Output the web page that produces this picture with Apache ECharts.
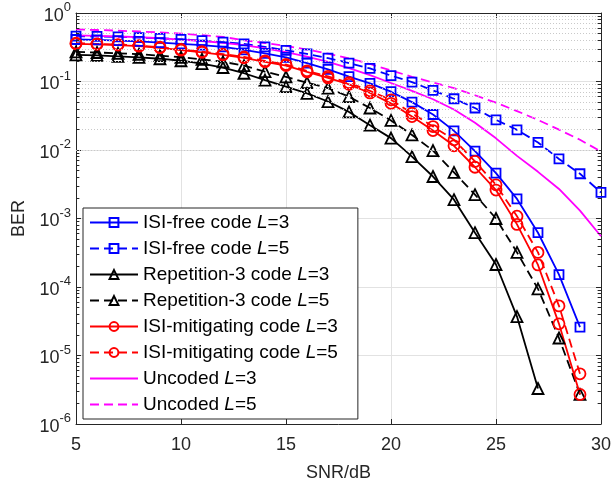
<!DOCTYPE html>
<html><head><meta charset="utf-8">
<script src="https://cdn.jsdelivr.net/npm/echarts@6/dist/echarts.min.js"></script>
<style>html,body{margin:0;padding:0;background:#fff}#c{width:614px;height:487px}</style>
</head><body><div id="c"></div>
<script>
// ---- data ----
const snr = [5,6,7,8,9,10,11,12,13,14,15,16,17,18,19,20,21,22,23,24,25,26,27,28,29,30];
const xTicks = [5,10,15,20,25,30];
const yTickExponents = [-6,-5,-4,-3,-2,-1,0];
const minorMantissas = [2,3,4,5,6,7,8,9];

const isiFreeL3 = [0.41,0.405,0.395,0.385,0.37,0.355,0.34,0.32,0.29,0.257,0.225,0.186,0.150,0.118,0.094,0.071,0.050,0.033,0.019,0.0096,0.0046,0.00193,6.2e-4,1.52e-4,2.6e-5];
const isiFreeL5 = [0.46,0.455,0.447,0.438,0.427,0.413,0.395,0.375,0.355,0.32,0.285,0.253,0.22,0.186,0.155,0.122,0.098,0.074,0.056,0.041,0.0275,0.0197,0.0129,0.0074,0.0045,0.0024];
const rep3L3 = [0.245,0.24,0.233,0.225,0.215,0.201,0.182,0.16,0.132,0.105,0.084,0.067,0.051,0.036,0.023,0.0149,0.0080,0.0041,0.00188,6.2e-4,2.13e-4,3.7e-5,3.3e-6];
const rep3L5 = [0.27,0.265,0.258,0.25,0.238,0.226,0.211,0.194,0.17,0.139,0.117,0.096,0.080,0.060,0.041,0.027,0.0166,0.0098,0.0047,0.00223,1.0e-3,3.2e-4,9.4e-5,1.8e-5,2.7e-6];
const isiMitL3 = [0.355,0.349,0.34,0.328,0.31,0.287,0.267,0.245,0.222,0.194,0.171,0.138,0.113,0.091,0.068,0.048,0.0308,0.0192,0.0115,0.0056,0.0026,8.2e-4,2.1e-4,2.9e-5,2.7e-6];
const isiMitL5 = [0.362,0.355,0.346,0.334,0.316,0.293,0.273,0.251,0.228,0.2,0.177,0.143,0.119,0.096,0.073,0.054,0.0344,0.022,0.0141,0.0068,0.0031,1.08e-3,3.2e-4,5.3e-5,5.4e-6];
const uncodedL3 = [0.47,0.463,0.454,0.443,0.428,0.41,0.39,0.367,0.34,0.305,0.268,0.23,0.193,0.157,0.124,0.095,0.073,0.055,0.039,0.025,0.0148,0.0082,0.0048,0.0027,0.0013,5.5e-4];
const uncodedL5 = [0.575,0.565,0.552,0.537,0.52,0.5,0.475,0.447,0.40,0.365,0.33,0.293,0.255,0.218,0.18,0.145,0.117,0.097,0.080,0.063,0.049,0.037,0.0275,0.0198,0.0141,0.0095];

// ---- helpers ----
const FONT = '"Liberation Sans", Arial, Helvetica, sans-serif';
const TXT = '#262626';
const pairs = v => v.map((y, i) => [snr[i], y]);
const DASH = [9, 5];

function mkSeries(name, vals, color, dashed, symbol, size) {
  return {
    name, type: 'line', data: pairs(vals),
    symbol: symbol || 'none', symbolSize: size || 0, showAllSymbol: true,
    lineStyle: {color, width: 1.8, type: dashed ? DASH : 'solid'},
    itemStyle: {color: 'rgba(255,255,255,0)', borderColor: color, borderWidth: 1.8},
    emphasis: {disabled: true}, animation: false, z: 3
  };
}

const minorVals = [];
yTickExponents.slice(0, -1).forEach(e => minorMantissas.forEach(m => minorVals.push(m * Math.pow(10, e))));

const minorGrid = minorVals.map(v => ({yAxis: v}));
const minorTicks = [];
minorVals.forEach(v => {
  minorTicks.push([{coord: [snr[0], v]}, {coord: [snr[0] + 0.16, v]}]);
  minorTicks.push([{coord: [snr[snr.length - 1], v]}, {coord: [snr[snr.length - 1] - 0.16, v]}]);
});

const helper = {
  name: '_grid', type: 'line', data: [], z: 1, silent: true, animation: false,
  markLine: {
    silent: true, symbol: 'none', animation: false,
    label: {show: false},
    lineStyle: {color: '#c9c9c9', width: 1, type: [1, 2]},
    data: minorGrid
  }
};
const helper2 = {
  name: '_ticks', type: 'line', data: [], z: 4, silent: true, animation: false,
  markLine: {
    silent: true, symbol: 'none', animation: false,
    label: {show: false},
    lineStyle: {color: TXT, width: 1, type: 'solid'},
    data: minorTicks
  }
};

const series = [
  mkSeries('ISI-free code L=3', isiFreeL3, '#0000ff', false, 'rect', 9),
  mkSeries('ISI-free code L=5', isiFreeL5, '#0000ff', true, 'rect', 9),
  mkSeries('Repetition-3 code L=3', rep3L3, '#000000', false, 'triangle', 11),
  mkSeries('Repetition-3 code L=5', rep3L5, '#000000', true, 'triangle', 11),
  mkSeries('ISI-mitigating code L=3', isiMitL3, '#ff0000', false, 'circle', 11),
  mkSeries('ISI-mitigating code L=5', isiMitL5, '#ff0000', true, 'circle', 11),
  mkSeries('Uncoded L=3', uncodedL3, '#ff00ff', false, 'none', 0),
  mkSeries('Uncoded L=5', uncodedL5, '#ff00ff', true, 'none', 0),
  helper, helper2
];

const legendData = series.slice(0, 8).map(s => s.symbol === 'none'
  ? {name: s.name, itemStyle: {color: 'rgba(0,0,0,0)', borderColor: 'rgba(0,0,0,0)', borderWidth: 0, opacity: 0}}
  : {name: s.name});

const axisLine = {show: true, lineStyle: {color: TXT, width: 1}};
const chart = echarts.init(document.getElementById('c'), null, {renderer: 'canvas'});
chart.setOption({
  backgroundColor: '#fff',
  animation: false,
  grid: {left: 76, right: 10, top: 13, bottom: 62, containLabel: false},
  legend: {
    data: legendData,
    orient: 'vertical', left: 83, top: 208,
    itemWidth: 48, itemHeight: 11, itemGap: 7,
    padding: [5, 20, 5, 6],
    backgroundColor: '#fff', borderColor: TXT, borderWidth: 1, borderRadius: 0,
    selectedMode: false,
    textStyle: {fontFamily: FONT, fontSize: 19, color: '#000',
      rich: {i: {fontFamily: FONT, fontSize: 19, fontStyle: 'italic', color: '#000'}}},
    formatter: n => n.replace('L=', '{i|L}=')
  },
  xAxis: [{
    type: 'value', min: xTicks[0], max: xTicks[xTicks.length - 1], interval: 5,
    position: 'bottom',
    name: 'SNR/dB', nameLocation: 'middle', nameGap: 40,
    nameTextStyle: {fontFamily: FONT, fontSize: 18, color: TXT},
    axisLine, axisTick: {show: true, inside: true, length: 5, lineStyle: {color: TXT}},
    axisLabel: {fontFamily: FONT, fontSize: 18, color: TXT, margin: 12},
    splitLine: {show: true, lineStyle: {color: '#e2e2e2', width: 1}}
  }, {
    type: 'value', min: xTicks[0], max: xTicks[xTicks.length - 1], interval: 5,
    position: 'top', axisLine, axisTick: {show: true, inside: true, length: 5, lineStyle: {color: TXT}},
    axisLabel: {show: false}, splitLine: {show: false}
  }],
  yAxis: [{
    type: 'log', logBase: 10, min: Math.pow(10, yTickExponents[0]), max: Math.pow(10, yTickExponents[yTickExponents.length - 1]),
    position: 'left',
    name: 'BER', nameLocation: 'middle', nameGap: 43,
    nameTextStyle: {fontFamily: FONT, fontSize: 18, color: TXT},
    axisLine, axisTick: {show: true, inside: true, length: 5, lineStyle: {color: TXT}},
    axisLabel: {
      margin: 5, fontFamily: FONT, color: TXT,
      formatter: v => '{b|10}{s|' + Math.round(Math.log10(v)) + '}',
      rich: {
        b: {fontFamily: FONT, fontSize: 18, color: TXT, padding: [6, 0, 0, 0]},
        s: {fontFamily: FONT, fontSize: 13, color: TXT, lineHeight: 13, verticalAlign: 'top'}
      }
    },
    splitLine: {show: true, lineStyle: {color: '#e2e2e2', width: 1}}
  }, {
    type: 'log', logBase: 10, min: Math.pow(10, yTickExponents[0]), max: Math.pow(10, yTickExponents[yTickExponents.length - 1]),
    position: 'right', axisLine, axisTick: {show: true, inside: true, length: 5, lineStyle: {color: TXT}},
    axisLabel: {show: false}, splitLine: {show: false}
  }],
  series
});
</script></body></html>
